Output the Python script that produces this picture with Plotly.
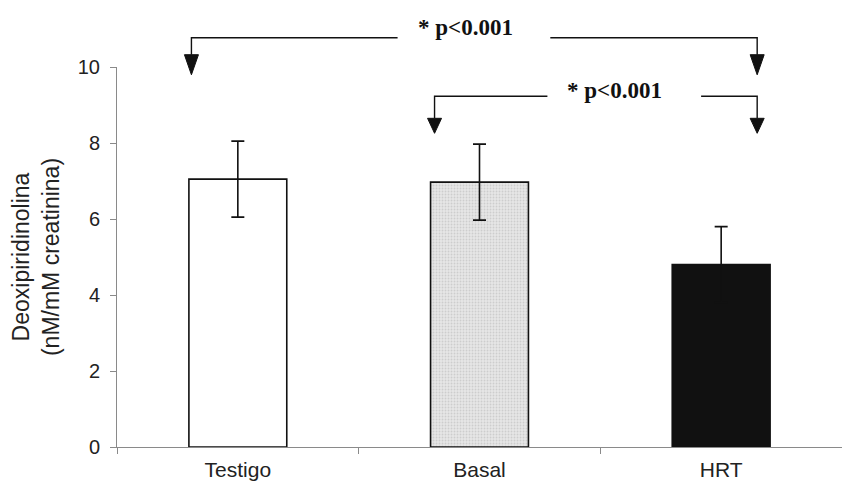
import plotly.graph_objects as go

categories = ["Testigo", "Basal", "HRT"]
means = [7.05, 6.97, 4.80]
errors = [1.00, 1.00, 1.00]
y_ticks = [0, 2, 4, 6, 8, 10]
p_labels = ["* p<0.001", "* p<0.001"]

W, H = 842, 490
L, R, T, B = 117, 0, 67, 43

INK = "#111111"
fig = go.Figure()

fills = ["#ffffff", "#dcdcdc", INK]
for i, (c, m, e) in enumerate(zip(categories, means, errors)):
    marker = dict(color=fills[i], line=dict(color=INK, width=1.6))
    if i == 1:
        marker["pattern"] = dict(shape=".", fgcolor="#b4b4b4", bgcolor="#e6e6e6",
                                 size=3, solidity=0.3, fillmode="overlay")
    fig.add_trace(go.Bar(
        x=[c], y=[m], width=0.405, marker=marker,
        error_y=dict(type="data", array=[e], color=INK, thickness=1.6, width=6.5),
        showlegend=False, hoverinfo="skip",
    ))

# significance brackets (positions in axis/paper coordinates)
brackets = [
    dict(x0=-0.192, g0=0.661, g1=1.293, x1=2.149, yb=1.0768, ya=1.0324, yt=0.9795, tx=0.94, ty=1.103),
    dict(x0=0.814, g0=1.281, g1=1.917, x1=2.149, yb=0.9229, ya=0.865, yt=0.8255, tx=1.56, ty=0.937),
]
hw = 0.029
shapes = []
annotations = []
for b, lab in zip(brackets, p_labels):
    line = dict(color=INK, width=1.4)
    path1 = f"M {b['x0']},{b['ya']} L {b['x0']},{b['yb']} L {b['g0']},{b['yb']}"
    path2 = f"M {b['g1']},{b['yb']} L {b['x1']},{b['yb']} L {b['x1']},{b['ya']}"
    for p in (path1, path2):
        shapes.append(dict(type="path", path=p, xref="x", yref="paper", line=line))
    for xx in (b["x0"], b["x1"]):
        tri = f"M {xx-hw},{b['ya']} L {xx+hw},{b['ya']} L {xx},{b['yt']} Z"
        shapes.append(dict(type="path", path=tri, xref="x", yref="paper",
                           fillcolor=INK, line=dict(color=INK, width=1)))
    annotations.append(dict(x=b["tx"], y=b["ty"], xref="x", yref="paper", text=lab,
                            xanchor="center", yanchor="middle", showarrow=False,
                            font=dict(family="Liberation Serif", size=23,
                                      color=INK, weight="bold")))

fig.update_layout(
    width=W, height=H,
    margin=dict(l=L, r=R, t=T, b=B, autoexpand=False),
    plot_bgcolor="white", paper_bgcolor="white",
    bargap=0.6,
    shapes=shapes, annotations=annotations,
    font=dict(family="Liberation Sans, Arial", color="#222222"),
    xaxis=dict(type="category", range=[-0.5, 2.5], showline=True, linecolor="#8a8a8a",
               linewidth=1, ticks="outside", tickson="boundaries", ticklen=6,
               tickcolor="#8a8a8a", tickfont=dict(size=21, color="#222222"),
               ticklabelstandoff=4,
               showgrid=False, zeroline=False, automargin=False),
    yaxis=dict(range=[0, 10], tickvals=y_ticks, showline=True, linecolor="#8a8a8a",
               linewidth=1, ticks="outside", ticklen=6, tickcolor="#8a8a8a",
               ticklabelstandoff=6,
               tickfont=dict(size=20, color="#222222"), showgrid=False, zeroline=False,
               automargin=False,
               title=dict(text="Deoxipiridinolina<br>(nM/mM creatinina)",
                          font=dict(size=23, color="#222222"), standoff=11)),
)

fig.write_html("out.html")
